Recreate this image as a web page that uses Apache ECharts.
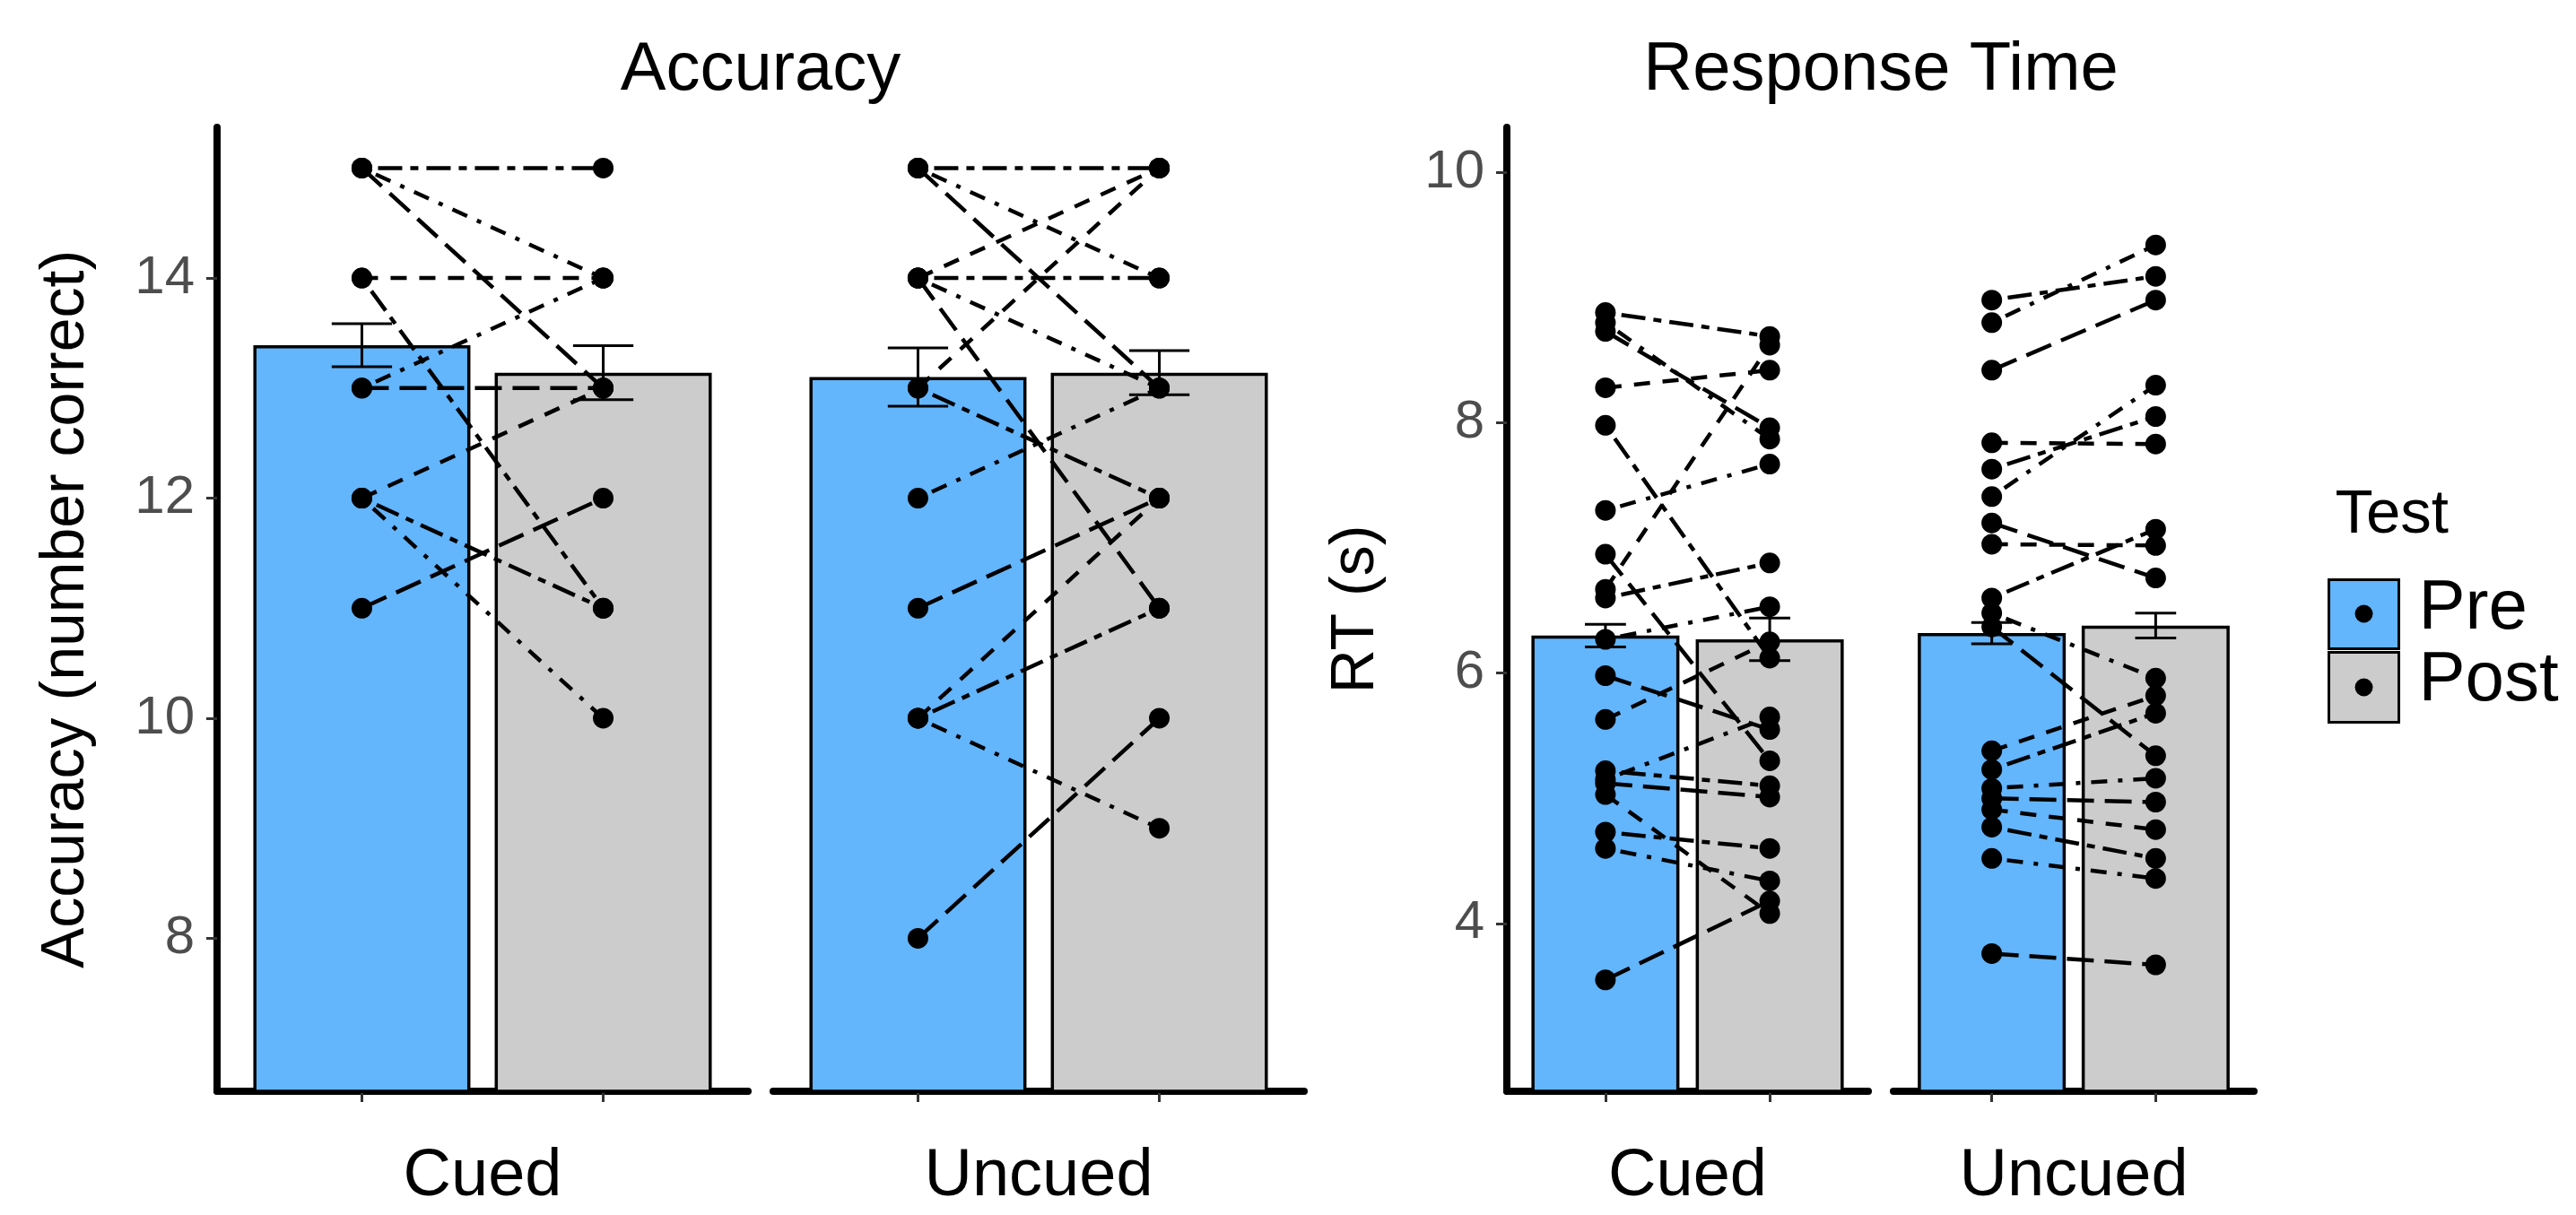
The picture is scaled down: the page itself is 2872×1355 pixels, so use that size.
<!DOCTYPE html>
<html>
<head>
<meta charset="utf-8">
<script src="https://cdn.jsdelivr.net/npm/echarts@6/dist/echarts.min.js"></script>
<style>
  html, body { margin: 0; background: #fff; }
  #chart { width: 2872px; height: 1355px; }
</style>
</head>
<body>
<div id="chart"></div>
<script>
// --- values ---
const cues = ['Cued', 'Uncued'];
const tests = ['Pre', 'Post'];

// accuracy, one entry per participant (pre -> post)
const accCuedPre    = [15, 15, 15, 14, 14, 13, 13, 12, 12, 12, 11];
const accCuedPost   = [15, 14, 13, 14, 11, 14, 13, 13, 11, 10, 12];
const accUncuedPre  = [15, 15, 15, 14, 14, 14, 14, 13, 13, 12, 11, 10, 10, 10, 8];
const accUncuedPost = [15, 14, 13, 15, 14, 13, 11, 15, 12, 13, 12, 12, 11, 9, 10];

// response time (s)
const rtCuedPre    = [8.88, 8.80, 8.73, 8.28, 7.98, 7.30, 6.95, 6.67, 6.60, 6.27, 5.98, 5.63, 5.22, 5.15, 5.12, 5.03, 4.73, 4.60, 3.55];
const rtCuedPost   = [8.69, 7.87, 7.96, 8.42, 6.12, 7.67, 5.30, 8.62, 6.88, 6.53, 5.55, 6.25, 5.10, 5.65, 5.01, 4.08, 4.60, 4.34, 4.18];
const rtUncuedPre  = [8.98, 8.80, 8.42, 7.84, 7.63, 7.41, 7.20, 7.03, 6.60, 6.48, 6.37, 5.38, 5.23, 5.08, 5.00, 4.91, 4.77, 4.52, 3.76];
const rtUncuedPost = [9.17, 9.42, 8.98, 7.83, 8.05, 8.30, 6.76, 7.02, 7.15, 5.96, 5.34, 5.82, 5.68, 5.16, 4.97, 4.75, 4.52, 4.36, 3.67];

// bar means and standard errors, [Cued, Uncued]
const accMeanPre  = [13.39, 13.10];
const accMeanPost = [13.14, 13.14];
const accSePre    = [0.195, 0.265];
const accSePost   = [0.245, 0.20];
const rtMeanPre   = [6.30, 6.32];
const rtMeanPost  = [6.27, 6.38];
const rtSePre     = [0.09, 0.085];
const rtSePost    = [0.17, 0.10];

const accTicks = [8, 10, 12, 14];
const rtTicks  = [4, 6, 8, 10];

// --- styling / layout ---
const FONT = 'Liberation Sans';
const BLUE = '#63B5FC';
const GREY = '#CCCCCC';
const TOP = 142, HEIGHT = 1082;
const grids = [
  { left: 242,  width: 592 },
  { left: 862,  width: 592 },
  { left: 1680, width: 403 },
  { left: 2111, width: 402 }
];
const dashes = [[9, 9, 27, 9], [5, 12, 18, 12], [30, 12], [18, 14]];

const panels = [
  { pre: accCuedPre,   post: accCuedPost,   mPre: accMeanPre[0], mPost: accMeanPost[0], sPre: accSePre[0], sPost: accSePost[0] },
  { pre: accUncuedPre, post: accUncuedPost, mPre: accMeanPre[1], mPost: accMeanPost[1], sPre: accSePre[1], sPost: accSePost[1] },
  { pre: rtCuedPre,    post: rtCuedPost,    mPre: rtMeanPre[0],  mPost: rtMeanPost[0],  sPre: rtSePre[0],  sPost: rtSePost[0] },
  { pre: rtUncuedPre,  post: rtUncuedPost,  mPre: rtMeanPre[1],  mPost: rtMeanPost[1],  sPre: rtSePre[1],  sPost: rtSePost[1] }
];

function renderErrorBar(params, api) {
  const x = api.value(0);
  const lo = api.coord([x, api.value(1)]);
  const hi = api.coord([x, api.value(2)]);
  const half = api.size([0.25, 0])[0] / 2;
  const style = { stroke: '#000', lineWidth: 3, fill: null };
  return {
    type: 'group',
    children: [
      { type: 'line', shape: { x1: hi[0], y1: hi[1], x2: lo[0], y2: lo[1] }, style: style },
      { type: 'line', shape: { x1: hi[0] - half, y1: hi[1], x2: hi[0] + half, y2: hi[1] }, style: style },
      { type: 'line', shape: { x1: lo[0] - half, y1: lo[1], x2: lo[0] + half, y2: lo[1] }, style: style }
    ]
  };
}

const xAxes = [], yAxes = [], series = [];
panels.forEach(function (p, i) {
  const isAcc = i < 2;
  const ticks = isAcc ? accTicks : rtTicks;
  xAxes.push({
    type: 'value', gridIndex: i, min: 0.4, max: 2.6,
    name: cues[i % 2], nameLocation: 'middle', nameGap: 59,
    nameTextStyle: { fontSize: 74, color: '#000', fontFamily: FONT },
    axisLine: { show: true, onZero: false, lineStyle: { color: '#000', width: 8 } },
    axisTick: { show: true, customValues: [1, 2], length: 12, lineStyle: { color: '#333', width: 3 } },
    axisLabel: { show: false },
    splitLine: { show: false }
  });
  yAxes.push({
    type: 'value', gridIndex: i, show: i % 2 === 0,
    min: isAcc ? 6.61 : 2.66, max: isAcc ? 15.37 : 10.36,
    name: isAcc ? 'Accuracy (number correct)' : 'RT (s)',
    nameLocation: 'middle', nameGap: 134, nameRotate: 90,
    nameTextStyle: { fontSize: 68, color: '#000', fontFamily: FONT },
    axisLine: { show: true, onZero: false, lineStyle: { color: '#000', width: 8 } },
    axisTick: { show: true, customValues: ticks, length: 12, lineStyle: { color: '#333', width: 3 } },
    axisLabel: { customValues: ticks, fontSize: 60, color: '#4D4D4D', margin: 25, fontFamily: FONT },
    splitLine: { show: false }
  });

  const bw = isAcc ? 242 : 165;
  series.push({
    type: 'bar', name: tests[0], xAxisIndex: i, yAxisIndex: i, data: [[1, p.mPre]],
    barWidth: bw, barGap: '-100%', z: 1,
    itemStyle: { color: BLUE, borderColor: '#000', borderWidth: 3.5 }
  });
  series.push({
    type: 'bar', name: tests[1], xAxisIndex: i, yAxisIndex: i, data: [[2, p.mPost]],
    barWidth: bw, barGap: '-100%', z: 1,
    itemStyle: { color: GREY, borderColor: '#000', borderWidth: 3.5 }
  });
  series.push({
    type: 'custom', xAxisIndex: i, yAxisIndex: i, z: 2,
    renderItem: renderErrorBar,
    encode: { x: 0, y: [1, 2] },
    data: [[1, p.mPre - p.sPre, p.mPre + p.sPre], [2, p.mPost - p.sPost, p.mPost + p.sPost]]
  });
  p.pre.forEach(function (v, k) {
    series.push({
      type: 'line', xAxisIndex: i, yAxisIndex: i, z: 3,
      data: [[1, v], [2, p.post[k]]],
      symbol: 'circle', symbolSize: 23, showSymbol: true,
      itemStyle: { color: '#000' },
      lineStyle: { color: '#000', width: 4.5, type: dashes[k % dashes.length] }
    });
  });
});

const titleStyle = { fontSize: 76, fontWeight: 'normal', color: '#000', fontFamily: FONT };

const option = {
  animation: false,
  backgroundColor: '#fff',
  textStyle: { fontFamily: FONT },
  title: [
    { text: 'Accuracy', left: 848, top: 41, textAlign: 'center', padding: 0, textStyle: titleStyle },
    { text: 'Response Time', left: 2097, top: 41, textAlign: 'center', padding: 0, textStyle: titleStyle }
  ],
  grid: grids.map(function (g) {
    return { left: g.left, top: TOP, width: g.width, height: HEIGHT, containLabel: false };
  }),
  xAxis: xAxes,
  yAxis: yAxes,
  series: series,
  graphic: [{
    type: 'group', left: 2595, top: 540,
    children: [
      { type: 'text', x: 7, y: 30, style: { text: 'Test', fontSize: 69, fontFamily: FONT, fill: '#000', verticalAlign: 'middle' } },
      { type: 'rect', x: 0, y: 102, shape: { width: 78, height: 77 }, style: { fill: BLUE, stroke: '#000', lineWidth: 3 } },
      { type: 'circle', shape: { cx: 39, cy: 140, r: 10 }, style: { fill: '#000' } },
      { type: 'rect', x: 0, y: 183, shape: { width: 78, height: 78 }, style: { fill: GREY, stroke: '#000', lineWidth: 3 } },
      { type: 'circle', shape: { cx: 39, cy: 222, r: 10 }, style: { fill: '#000' } },
      { type: 'text', x: 100, y: 135, style: { text: tests[0], fontSize: 78, fontFamily: FONT, fill: '#000', verticalAlign: 'middle' } },
      { type: 'text', x: 100, y: 215, style: { text: tests[1], fontSize: 78, fontFamily: FONT, fill: '#000', verticalAlign: 'middle' } }
    ]
  }]
};

const chart = echarts.init(document.getElementById('chart'));
chart.setOption(option);
</script>
</body>
</html>
